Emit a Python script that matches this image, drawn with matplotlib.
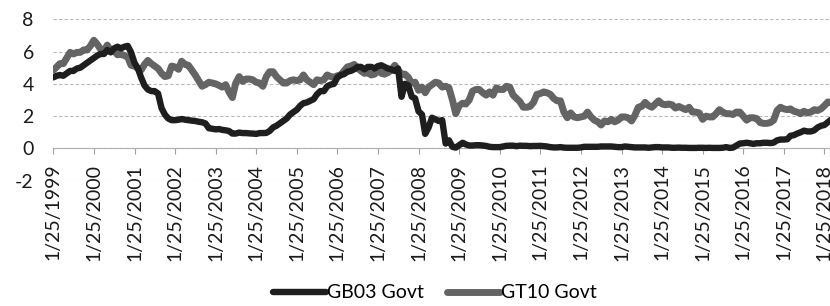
import matplotlib
matplotlib.use("Agg")
import matplotlib.pyplot as plt
import pandas as pd

plt.rcParams['font.family'] = ['Lato', 'DejaVu Sans']

# Monthly readings (25th of each month), Jan 1999 .. Mar 2018
gb03 = [
    4.40, 4.50, 4.55, 4.50, 4.65, 4.80, 4.80, 4.95, 5.00, 5.15, 5.30, 5.45,  # 1999
    5.60, 5.75, 5.85, 5.85, 6.10, 5.95, 6.20, 6.30, 6.20, 6.30, 6.35, 5.95,  # 2000
    5.30, 4.95, 4.40, 3.90, 3.65, 3.55, 3.55, 3.40, 2.50, 2.10, 1.85, 1.75,  # 2001
    1.75, 1.78, 1.82, 1.78, 1.75, 1.72, 1.70, 1.65, 1.62, 1.55, 1.25, 1.22,  # 2002
    1.18, 1.20, 1.15, 1.12, 1.08, 0.92, 0.92, 0.98, 0.95, 0.95, 0.93, 0.92,  # 2003
    0.90, 0.95, 0.95, 0.96, 1.08, 1.30, 1.40, 1.55, 1.70, 1.85, 2.10, 2.25,  # 2004
    2.40, 2.65, 2.80, 2.85, 2.95, 3.05, 3.35, 3.55, 3.55, 3.85, 3.95, 4.00,  # 2005
    4.40, 4.55, 4.60, 4.75, 4.80, 4.90, 5.05, 5.05, 4.90, 5.05, 5.05, 4.95,  # 2006
    5.10, 5.15, 5.05, 4.95, 4.90, 4.80, 4.95, 3.20, 4.00, 3.90, 3.20, 3.10,  # 2007
    2.30, 2.10, 0.90, 1.30, 1.90, 1.80, 1.70, 1.75, 0.30, 0.50, 0.10, 0.05,  # 2008
    0.20, 0.35, 0.25, 0.18, 0.18, 0.20, 0.20, 0.18, 0.15, 0.10, 0.08, 0.08,  # 2009
    0.08, 0.12, 0.16, 0.17, 0.17, 0.14, 0.17, 0.16, 0.16, 0.14, 0.15, 0.15,  # 2010
    0.16, 0.14, 0.12, 0.08, 0.06, 0.06, 0.08, 0.05, 0.04, 0.04, 0.04, 0.04,  # 2011
    0.06, 0.10, 0.10, 0.10, 0.10, 0.10, 0.12, 0.12, 0.12, 0.12, 0.10, 0.08,  # 2012
    0.08, 0.12, 0.10, 0.08, 0.06, 0.06, 0.06, 0.06, 0.04, 0.06, 0.08, 0.08,  # 2013
    0.06, 0.06, 0.06, 0.04, 0.04, 0.05, 0.04, 0.04, 0.03, 0.03, 0.03, 0.04,  # 2014
    0.04, 0.03, 0.04, 0.03, 0.03, 0.03, 0.04, 0.08, 0.03, 0.05, 0.18, 0.30,  # 2015
    0.32, 0.35, 0.32, 0.28, 0.32, 0.32, 0.35, 0.35, 0.33, 0.36, 0.50, 0.55,  # 2016
    0.55, 0.57, 0.78, 0.82, 0.92, 1.00, 1.10, 1.05, 1.05, 1.12, 1.30, 1.40,  # 2017
    1.45, 1.62, 1.78,                                                        # 2018
]

gt10 = [
    4.85, 5.05, 5.25, 5.25, 5.60, 5.95, 5.85, 5.95, 5.95, 6.10, 6.10, 6.35,  # 1999
    6.70, 6.45, 6.15, 6.05, 6.40, 6.05, 6.05, 5.80, 5.85, 5.75, 5.65, 5.15,  # 2000
    5.10, 4.95, 4.85, 5.20, 5.45, 5.25, 5.10, 4.95, 4.65, 4.45, 4.50, 5.10,  # 2001
    5.05, 4.90, 5.40, 5.20, 5.15, 4.85, 4.55, 4.20, 3.85, 3.95, 4.10, 4.05,  # 2002
    4.00, 3.90, 3.80, 3.95, 3.50, 3.15, 4.05, 4.45, 4.15, 4.30, 4.30, 4.25,  # 2003
    4.10, 4.05, 3.85, 4.45, 4.75, 4.75, 4.45, 4.25, 4.05, 4.05, 4.20, 4.25,  # 2004
    4.20, 4.25, 4.55, 4.25, 4.10, 3.95, 4.25, 4.20, 4.25, 4.55, 4.45, 4.40,  # 2005
    4.50, 4.55, 4.80, 5.05, 5.10, 5.20, 4.98, 4.80, 4.65, 4.70, 4.55, 4.60,  # 2006
    4.85, 4.65, 4.60, 4.70, 4.85, 5.15, 4.85, 4.60, 4.60, 4.40, 4.05, 4.10,  # 2007
    3.60, 3.80, 3.45, 3.80, 3.95, 4.10, 4.05, 3.80, 3.85, 3.75, 3.00, 2.15,  # 2008
    2.65, 2.80, 2.75, 3.00, 3.55, 3.65, 3.65, 3.45, 3.30, 3.50, 3.30, 3.75,  # 2009
    3.65, 3.65, 3.85, 3.80, 3.30, 3.10, 2.90, 2.55, 2.55, 2.60, 2.85, 3.35,  # 2010
    3.40, 3.50, 3.45, 3.35, 3.10, 2.95, 2.95, 2.25, 1.90, 2.20, 1.95, 1.90,  # 2011
    1.95, 2.00, 2.25, 1.95, 1.75, 1.65, 1.45, 1.70, 1.65, 1.80, 1.65, 1.75,  # 2012
    1.95, 1.95, 1.90, 1.70, 2.05, 2.55, 2.60, 2.85, 2.65, 2.55, 2.75, 2.95,  # 2013
    2.75, 2.70, 2.75, 2.70, 2.50, 2.60, 2.50, 2.40, 2.55, 2.25, 2.25, 2.20,  # 2014
    1.80, 2.00, 1.95, 1.95, 2.15, 2.40, 2.25, 2.15, 2.15, 2.10, 2.25, 2.25,  # 2015
    2.00, 1.75, 1.90, 1.90, 1.85, 1.60, 1.55, 1.55, 1.60, 1.75, 2.35, 2.55,  # 2016
    2.45, 2.40, 2.45, 2.30, 2.25, 2.15, 2.30, 2.20, 2.25, 2.40, 2.35, 2.45,  # 2017
    2.65, 2.88, 2.85,                                                        # 2018
]

series_names = ["GB03 Govt", "GT10 Govt"]
tick_years = list(range(1999, 2019))
tick_labels = [f"1/25/{y}" for y in tick_years]
y_ticks = [-2, 0, 2, 4, 6, 8]

dates = [pd.Timestamp(1999 + i // 12, i % 12 + 1, 25) for i in range(len(gb03))]

fig = plt.figure(figsize=(8.30, 3.06), dpi=100)
ax = fig.add_axes([0.0642, 0.4095, 0.937, 0.5275])

ax.plot(dates, gt10, color="#646464", lw=5.0, solid_joinstyle="round",
        solid_capstyle="round", zorder=3, label=series_names[1])
ax.plot(dates, gb03, color="#1e1e1e", lw=4.6, solid_joinstyle="round",
        solid_capstyle="round", zorder=4, label=series_names[0])

ax.set_ylim(-2, 8)
ax.set_xlim(pd.Timestamp("1999-01-25"), pd.Timestamp("2018-03-25"))
ax.set_yticks(y_ticks)
ax.set_yticklabels([str(v) for v in y_ticks])
ax.tick_params(axis="y", length=0, pad=14, labelsize=14, labelcolor="#1a1a1a")

tick_dates = [pd.Timestamp(y, 1, 25) for y in tick_years]
ax.set_xticks(tick_dates)
ax.set_xticklabels(tick_labels)
ax.tick_params(axis="x", length=4, width=0.8, color="#a0a0a0", pad=7,
               labelsize=14, labelcolor="#1a1a1a", direction="out",
               labelrotation=90)
for lab in ax.get_xticklabels():
    lab.set_rotation(90)
    lab.set_ha("center")
    lab.set_va("top")

for s in ["top", "right", "left"]:
    ax.spines[s].set_visible(False)
ax.spines["bottom"].set_position(("data", 0))
ax.spines["bottom"].set_color("#b0b0b0")
ax.spines["bottom"].set_linewidth(0.8)

ax.grid(axis="y", color="#b8b8b8", lw=0.8, linestyle=(0, (3, 2)))
ax.set_axisbelow(True)

h, l = ax.get_legend_handles_labels()
order = [1, 0]
fig.legend([h[i] for i in order], [l[i] for i in order], loc="center",
           bbox_to_anchor=(0.524, 1 - 293 / 306), ncol=2, frameon=False,
           fontsize=14, handlelength=2.7, handletextpad=0.05,
           columnspacing=1.2, borderpad=0)

fig.savefig("out.png", dpi=100)
